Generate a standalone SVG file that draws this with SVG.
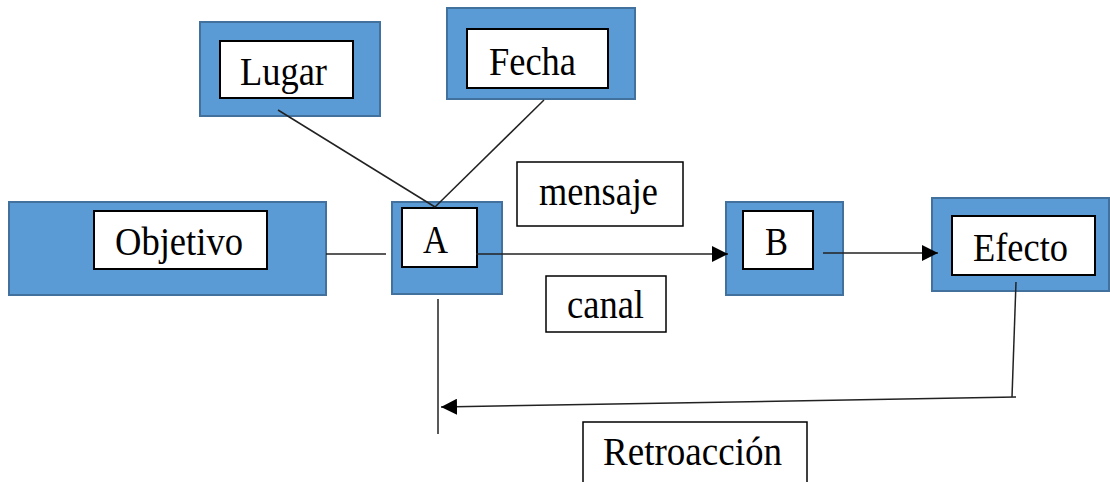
<svg xmlns="http://www.w3.org/2000/svg" width="1110" height="482" viewBox="0 0 1110 482">
<style>
.outer{fill:#5B9BD5;stroke:#41719C;stroke-width:2}
.inner{fill:#ffffff;stroke:#000000;stroke-width:2}
.lbl{fill:#ffffff;stroke:#000000;stroke-width:1.5}
.t{font-family:"Liberation Serif","Times New Roman",serif;font-size:40px;fill:#000}
.c{fill:none;stroke:#222;stroke-width:1.5}
</style>
<defs>
<marker id="ah" viewBox="0 0 16 16" refX="16" refY="8" markerWidth="16" markerHeight="16" markerUnits="userSpaceOnUse" orient="auto">
<path d="M0,0 L16,8 L0,16 Z" fill="#000"/>
</marker>
</defs>
<rect width="1110" height="482" fill="#ffffff"/>
<g id="lugar">
<rect class="outer" x="200" y="22" width="180" height="94"/>
<rect class="inner" x="220" y="41" width="133" height="57"/>
<text class="t" x="240" y="85" textLength="87" lengthAdjust="spacingAndGlyphs">Lugar</text>
</g>
<g id="fecha">
<rect class="outer" x="447" y="8" width="188" height="91"/>
<rect class="inner" x="467" y="29" width="141" height="59"/>
<text class="t" x="489" y="75" textLength="87" lengthAdjust="spacingAndGlyphs">Fecha</text>
</g>
<g id="objetivo">
<rect class="outer" x="9" y="202" width="317" height="93"/>
<rect class="inner" x="94" y="211" width="173" height="58"/>
<text class="t" x="115" y="255" textLength="128" lengthAdjust="spacingAndGlyphs">Objetivo</text>
</g>
<g id="a">
<rect class="outer" x="392" y="202" width="110" height="92"/>
<rect class="inner" x="402" y="208" width="75" height="59"/>
<text class="t" x="423" y="253" textLength="25" lengthAdjust="spacingAndGlyphs">A</text>
</g>
<g id="b">
<rect class="outer" x="726" y="202" width="117" height="93"/>
<rect class="inner" x="743" y="211" width="70" height="58"/>
<text class="t" x="765" y="255" textLength="23" lengthAdjust="spacingAndGlyphs">B</text>
</g>
<g id="efecto">
<rect class="outer" x="932" y="198" width="177" height="93"/>
<rect class="inner" x="952" y="216" width="143" height="59"/>
<text class="t" x="973" y="261" textLength="95" lengthAdjust="spacingAndGlyphs">Efecto</text>
</g>
<g id="mensaje">
<rect class="lbl" x="517" y="162" width="166" height="64"/>
<text class="t" x="539" y="205" textLength="119" lengthAdjust="spacingAndGlyphs">mensaje</text>
</g>
<g id="canal">
<rect class="lbl" x="546" y="276" width="120" height="56"/>
<text class="t" x="567" y="318" textLength="77" lengthAdjust="spacingAndGlyphs">canal</text>
</g>
<g id="retroaccion">
<rect class="lbl" x="583" y="422" width="224" height="70"/>
<text class="t" x="603" y="465" textLength="179" lengthAdjust="spacingAndGlyphs">Retroacción</text>
</g>
<g id="connectors">
<line class="c" x1="278" y1="110" x2="435" y2="207"/>
<line class="c" x1="544" y1="100" x2="435" y2="207"/>
<line class="c" x1="326" y1="254" x2="386" y2="254"/>
<line class="c" x1="476" y1="254" x2="728" y2="254" marker-end="url(#ah)"/>
<line class="c" x1="823" y1="253" x2="938" y2="253" marker-end="url(#ah)"/>
<line class="c" x1="1016" y1="282" x2="1012" y2="397"/>
<line class="c" x1="1016" y1="397" x2="441" y2="407" marker-end="url(#ah)"/>
<line class="c" x1="438" y1="299" x2="438" y2="434"/>
</g>
</svg>
